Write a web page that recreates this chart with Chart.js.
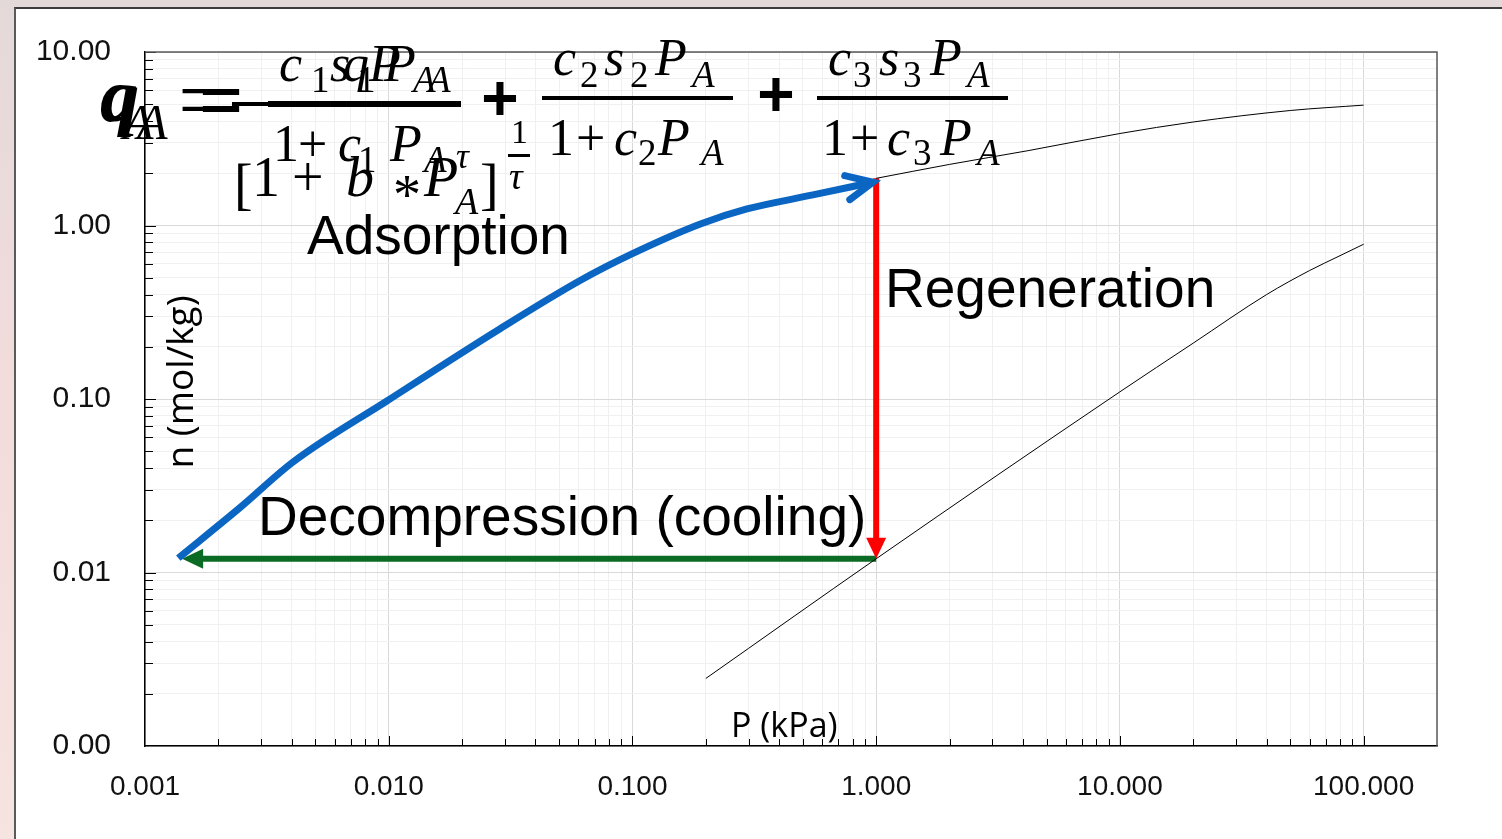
<!DOCTYPE html>
<html>
<head>
<meta charset="utf-8">
<script src="https://cdn.jsdelivr.net/npm/chart.js@4.4.1/dist/chart.umd.min.js"></script>
<style>
html,body{margin:0;padding:0;width:1502px;height:839px;overflow:hidden;
  background:linear-gradient(180deg,#e4d9d9 0%,#f2dcdc 45%,#f6e4e0 100%);}
#panel{position:absolute;left:14px;top:7px;width:1488px;height:832px;background:#fff;
  border-left:2px solid #5a5a5a;border-top:2px solid #3c3c3c;box-sizing:border-box;}
#c{position:absolute;left:0;top:0;}
</style>
</head>
<body>
<div id="panel"></div>
<canvas id="c" width="1502" height="839"></canvas>
<script>
// ---------------- data ----------------
// thin black isotherm, upper (adsorption conditions)
const upperP = [1, 2, 4.2, 10, 20, 50, 100];
const upperN = [1.87, 2.25, 2.7, 3.39, 3.95, 4.6, 4.94];
// thin black isotherm, lower (regeneration conditions)
const lowerP = [0.2, 1, 10, 20, 40, 60, 80, 100];
const lowerN = [0.00245, 0.012, 0.11, 0.21, 0.40, 0.55, 0.67, 0.78];
// blue adsorption path
const adsorptionP = [0.00137, 0.00245, 0.00405, 0.0099, 0.0281, 0.061, 0.1, 0.19, 0.295, 0.55, 0.97];
const adsorptionN = [0.0121, 0.0236, 0.0433, 0.098, 0.25, 0.482, 0.688, 1.02, 1.245, 1.50, 1.776];
// red regeneration step
const regenerationP = [1, 1];
const regenerationN = [1.87, 0.012];
// green decompression (cooling) step
const decompressionP = [1, 0.00142];
const decompressionN = [0.012, 0.012];
// axis ticks
const xTickValues = [0.001, 0.01, 0.1, 1, 10, 100];
const xTickLabels = ['0.001', '0.010', '0.100', '1.000', '10.000', '100.000'];
const yTickValues = [0.001, 0.01, 0.1, 1, 10];
const yTickLabels = ['0.00', '0.01', '0.10', '1.00', '10.00'];
const xTitle = 'P (kPa)';
const yTitle = 'n (mol/kg)';
const annotations = ['Adsorption', 'Regeneration', 'Decompression (cooling)'];

// ---------------- helpers ----------------
const pts = (xs, ys) => xs.map((x, i) => ({x: x, y: ys[i]}));
function logTicks(min, max) {
  const out = [];
  for (let e = Math.floor(Math.log10(min)); e <= Math.ceil(Math.log10(max)); e++) {
    for (let m = 1; m < 10; m++) {
      const v = +(m * Math.pow(10, e)).toPrecision(6);
      if (v >= min * 0.9999 && v <= max * 1.0001) out.push(v);
    }
  }
  return out;
}
const isMajor = v => Math.abs(Math.log10(v) - Math.round(Math.log10(v))) < 1e-6;
const labelFrom = (vals, labs) => v => {
  const i = vals.findIndex(t => Math.abs(Math.log10(t) - Math.log10(v)) < 1e-6);
  return i >= 0 ? labs[i] : '';
};

// ---------------- plugins ----------------
const framePlugin = {
  id: 'frame',
  afterDraw(chart) {
    const ctx = chart.ctx, a = chart.chartArea;
    const xs = chart.scales.x, ys = chart.scales.y;
    ctx.save();
    ctx.strokeStyle = '#000'; ctx.lineWidth = 1;
    xs.ticks.forEach(t => {
      const px = Math.round(xs.getPixelForValue(t.value)) + 0.5;
      if (px <= a.left + 1 || px >= a.right - 1) return;
      const len = isMajor(t.value) ? 10 : 7;
      ctx.beginPath(); ctx.moveTo(px, a.bottom); ctx.lineTo(px, a.bottom - len); ctx.stroke();
    });
    ys.ticks.forEach(t => {
      const py = Math.round(ys.getPixelForValue(t.value)) + 0.5;
      if (py >= a.bottom - 1) return;
      const len = isMajor(t.value) ? 11 : 8;
      ctx.beginPath(); ctx.moveTo(a.left, py); ctx.lineTo(a.left + len, py); ctx.stroke();
    });
    ctx.strokeStyle = '#5a5a5a'; ctx.lineWidth = 1.5;
    ctx.beginPath(); ctx.moveTo(a.left, a.top); ctx.lineTo(a.right, a.top); ctx.lineTo(a.right, a.bottom); ctx.stroke();
    ctx.restore();
  }
};

const arrowPlugin = {
  id: 'arrows',
  beforeDatasetDraw(chart, args) {
    const ds = chart.data.datasets[args.index];
    if (ds.arrow !== 'filled') return;
    const p = args.meta.data, n = p.length;
    const tip = p[n - 1], prev = p[n - 2];
    const dx = tip.x - prev.x, dy = tip.y - prev.y, L = Math.hypot(dx, dy);
    const ux = dx / L, uy = dy / L, vx = -uy, vy = ux;
    const a = ds.headLen - 3, w = ds.borderWidth;
    const ctx = chart.ctx;
    ctx.save();
    ctx.beginPath();
    ctx.rect(0, 0, chart.width, chart.height);
    const bx = tip.x - ux * a, by = tip.y - uy * a, fx = tip.x + ux * 6, fy = tip.y + uy * 6;
    ctx.moveTo(bx + vx * w, by + vy * w); ctx.lineTo(bx - vx * w, by - vy * w);
    ctx.lineTo(fx - vx * w, fy - vy * w); ctx.lineTo(fx + vx * w, fy + vy * w); ctx.closePath();
    ctx.clip('evenodd');
  },
  afterDatasetDraw(chart, args) {
    const ds = chart.data.datasets[args.index];
    if (!ds.arrow) return;
    const ctx = chart.ctx;
    if (ds.arrow === 'filled') ctx.restore();
    const p = args.meta.data, n = p.length;
    const tip = p[n - 1], prev = p[n - 2];
    const dx = tip.x - prev.x, dy = tip.y - prev.y, L = Math.hypot(dx, dy);
    const ux = dx / L, uy = dy / L, vx = -uy, vy = ux;
    ctx.save();
    if (ds.arrow === 'filled') {
      const h = ds.headLen, hw = ds.headHalf;
      ctx.fillStyle = ds.borderColor;
      ctx.beginPath();
      ctx.moveTo(tip.x, tip.y);
      ctx.lineTo(tip.x - ux * h + vx * hw, tip.y - uy * h + vy * hw);
      ctx.lineTo(tip.x - ux * h - vx * hw, tip.y - uy * h - vy * hw);
      ctx.closePath(); ctx.fill();
    } else {
      const h = ds.headLen, ang = 25 * Math.PI / 180;
      const bxx = -ux, byy = -uy;
      ctx.strokeStyle = ds.borderColor; ctx.lineWidth = ds.borderWidth; ctx.lineCap = 'round'; ctx.lineJoin = 'miter';
      const r = (s) => [bxx * Math.cos(s) - byy * Math.sin(s), bxx * Math.sin(s) + byy * Math.cos(s)];
      const [ax, ay] = r(ang), [cx, cy] = r(-ang);
      ctx.beginPath();
      ctx.moveTo(tip.x + ax * h, tip.y + ay * h); ctx.lineTo(tip.x, tip.y); ctx.lineTo(tip.x + cx * h, tip.y + cy * h);
      ctx.stroke();
    }
    ctx.restore();
  }
};

// equation glyph layout: [text, x, baseline, size, style]
const EQF = '"Liberation Serif","DejaVu Serif",serif';
const eqGlyphs = [
  // term 1 (two overlapping forms)
  ['q',100,121,76,'bold italic'], ['q',103,121,72,'italic'],
  ['A',123,139,50,'italic'], ['A',137,139,50,'italic'],
  ['c',279,81,52,'italic'], ['1',311,92,37,''], ['s',330,81,52,'italic'], ['q',343,81,52,'italic'],
  ['1',357,92,37,''], ['P',369,81,52,'italic'], ['P',384,81,52,'italic'], ['A',413,92,37,'italic'], ['A',428,92,37,'italic'],
  ['1',273,161,52,''], ['+',298,161,52,''], ['c',338,161,52,'italic'], ['1',358,172,37,''],
  ['P',390,161,52,'italic'], ['A',424,172,37,'italic'],
  ['[',234,203,56,''], ['1',252,196,56,''], ['+',292,196,56,''], ['b',346,196,56,'italic'],
  ['*',393,214,56,''], ['P',424,196,56,'italic'], ['A',455,214,38,'italic'], [']',480,203,56,''],
  ['τ',456,168,36,'italic'], ['1',511,143,34,''], ['τ',509,189,38,'italic'],
  // term 2
  ['c',553,75,52,'italic'], ['2',580,87,37,''], ['s',604,75,52,'italic'], ['2',630,87,37,''],
  ['P',655,75,52,'italic'], ['A',692,87,37,'italic'],
  ['1',548,155,52,''], ['+',576,155,52,''], ['c',614,155,52,'italic'], ['2',638,165,37,''],
  ['P',658,155,52,'italic'], ['A',701,165,37,'italic'],
  // term 3
  ['c',828,75,52,'italic'], ['3',853,87,37,''], ['s',879,75,52,'italic'], ['3',903,87,37,''],
  ['P',930,75,52,'italic'], ['A',967,87,37,'italic'],
  ['1',822,155,52,''], ['+',850,155,52,''], ['c',887,155,52,'italic'], ['3',913,165,37,''],
  ['P',940,155,52,'italic'], ['A',977,165,37,'italic']
];
const eqBars = [[232,102,229,4],[268,101,193,6],[542,96,191,4],[817,96,191,4],[508,154,22,3]];

const textPlugin = {
  id: 'texts',
  afterDraw(chart) {
    const ctx = chart.ctx;
    ctx.save();
    ctx.fillStyle = '#000';
    ctx.textAlign = 'left'; ctx.textBaseline = 'alphabetic';
    // annotations
    ctx.font = '55px "Liberation Sans", Arial, sans-serif';
    ctx.fillText(annotations[0], 307, 254);
    ctx.fillText(annotations[1], 885, 307);
    ctx.fillText(annotations[2], 258, 535);
    // axis titles
    ctx.font = '34px "Open Sans", sans-serif';
    ctx.fillText(xTitle, 731, 737);
    ctx.save();
    ctx.translate(193, 382); ctx.rotate(-Math.PI / 2);
    ctx.textAlign = 'center';
    ctx.font = '37px "Open Sans", sans-serif';
    ctx.fillText(yTitle, 0, 0);
    ctx.restore();
    // equation
    eqGlyphs.forEach(g => {
      ctx.font = (g[4] ? g[4] + ' ' : '') + g[3] + 'px ' + EQF;
      ctx.fillText(g[0], g[1], g[2]);
    });
    eqBars.forEach(b => ctx.fillRect(b[0], b[1], b[2], b[3]));
    // equal signs
    ctx.save(); ctx.translate(179, 129); ctx.scale(1.2, 1.44); ctx.font = '60px ' + EQF; ctx.fillText('=', 0, 0); ctx.restore();
    ctx.save(); ctx.translate(199, 129); ctx.scale(1.3, 1.44); ctx.font = 'bold 60px ' + EQF; ctx.fillText('=', 0, 0); ctx.restore();
    // big plus signs
    ctx.textAlign = 'center'; ctx.textBaseline = 'middle';
    ctx.font = 'bold 64px "Liberation Sans", Arial, sans-serif';
    ctx.fillText('+', 500, 102);
    ctx.fillText('+', 776, 98);
    ctx.restore();
  }
};

// ---------------- chart ----------------
const gridColor = c => (c.tick && isMajor(c.tick.value)) ? '#d9d9d9' : '#f0f0f0';

new Chart(document.getElementById('c'), {
  type: 'line',
  data: {
    datasets: [
      {label: 'upper', data: pts(upperP, upperN), borderColor: '#000', borderWidth: 1, pointRadius: 0, cubicInterpolationMode: 'monotone'},
      {label: 'lower', data: pts(lowerP, lowerN), borderColor: '#000', borderWidth: 1, pointRadius: 0, cubicInterpolationMode: 'monotone'},
      {label: 'Adsorption', data: pts(adsorptionP, adsorptionN), borderColor: '#0A66C2', borderWidth: 7, pointRadius: 0,
       cubicInterpolationMode: 'monotone', borderCapStyle: 'butt', arrow: 'open', headLen: 29},
      {label: 'Regeneration', data: pts(regenerationP, regenerationN), borderColor: '#FF0000', borderWidth: 6, pointRadius: 0,
       arrow: 'filled', headLen: 21, headHalf: 10},
      {label: 'Decompression', data: pts(decompressionP, decompressionN), borderColor: '#0B6B24', borderWidth: 6, pointRadius: 0,
       arrow: 'filled', headLen: 21, headHalf: 10}
    ]
  },
  options: {
    responsive: false,
    animation: false,
    events: [],
    layout: {padding: {left: 0, top: 47, right: 65, bottom: 0}},
    plugins: {legend: {display: false}, tooltip: {enabled: false}},
    scales: {
      x: {
        type: 'logarithmic', min: 0.001, max: 200, position: 'bottom',
        afterBuildTicks: s => { s.ticks = logTicks(0.001, 200).map(v => ({value: v})); },
        afterFit: s => { s.height = 93; },
        ticks: {autoSkip: false, maxRotation: 0, minRotation: 0, callback: labelFrom(xTickValues, xTickLabels),
                font: {family: '"Liberation Sans", Arial, sans-serif', size: 28}, color: '#111', padding: 24},
        grid: {color: gridColor, lineWidth: 1, drawTicks: false},
        border: {color: '#000', width: 1.5}
      },
      y: {
        type: 'logarithmic', min: 0.001, max: 10, position: 'left',
        afterBuildTicks: s => { s.ticks = logTicks(0.001, 10).map(v => ({value: v})); },
        afterFit: s => { s.width = 145; },
        ticks: {autoSkip: false, callback: labelFrom(yTickValues, yTickLabels),
                font: {family: '"Liberation Sans", Arial, sans-serif', size: 30}, color: '#111', padding: 34},
        grid: {color: gridColor, lineWidth: 1, drawTicks: false},
        border: {color: '#000', width: 1.5}
      }
    }
  },
  plugins: [arrowPlugin, framePlugin, textPlugin]
});
</script>
</body>
</html>
